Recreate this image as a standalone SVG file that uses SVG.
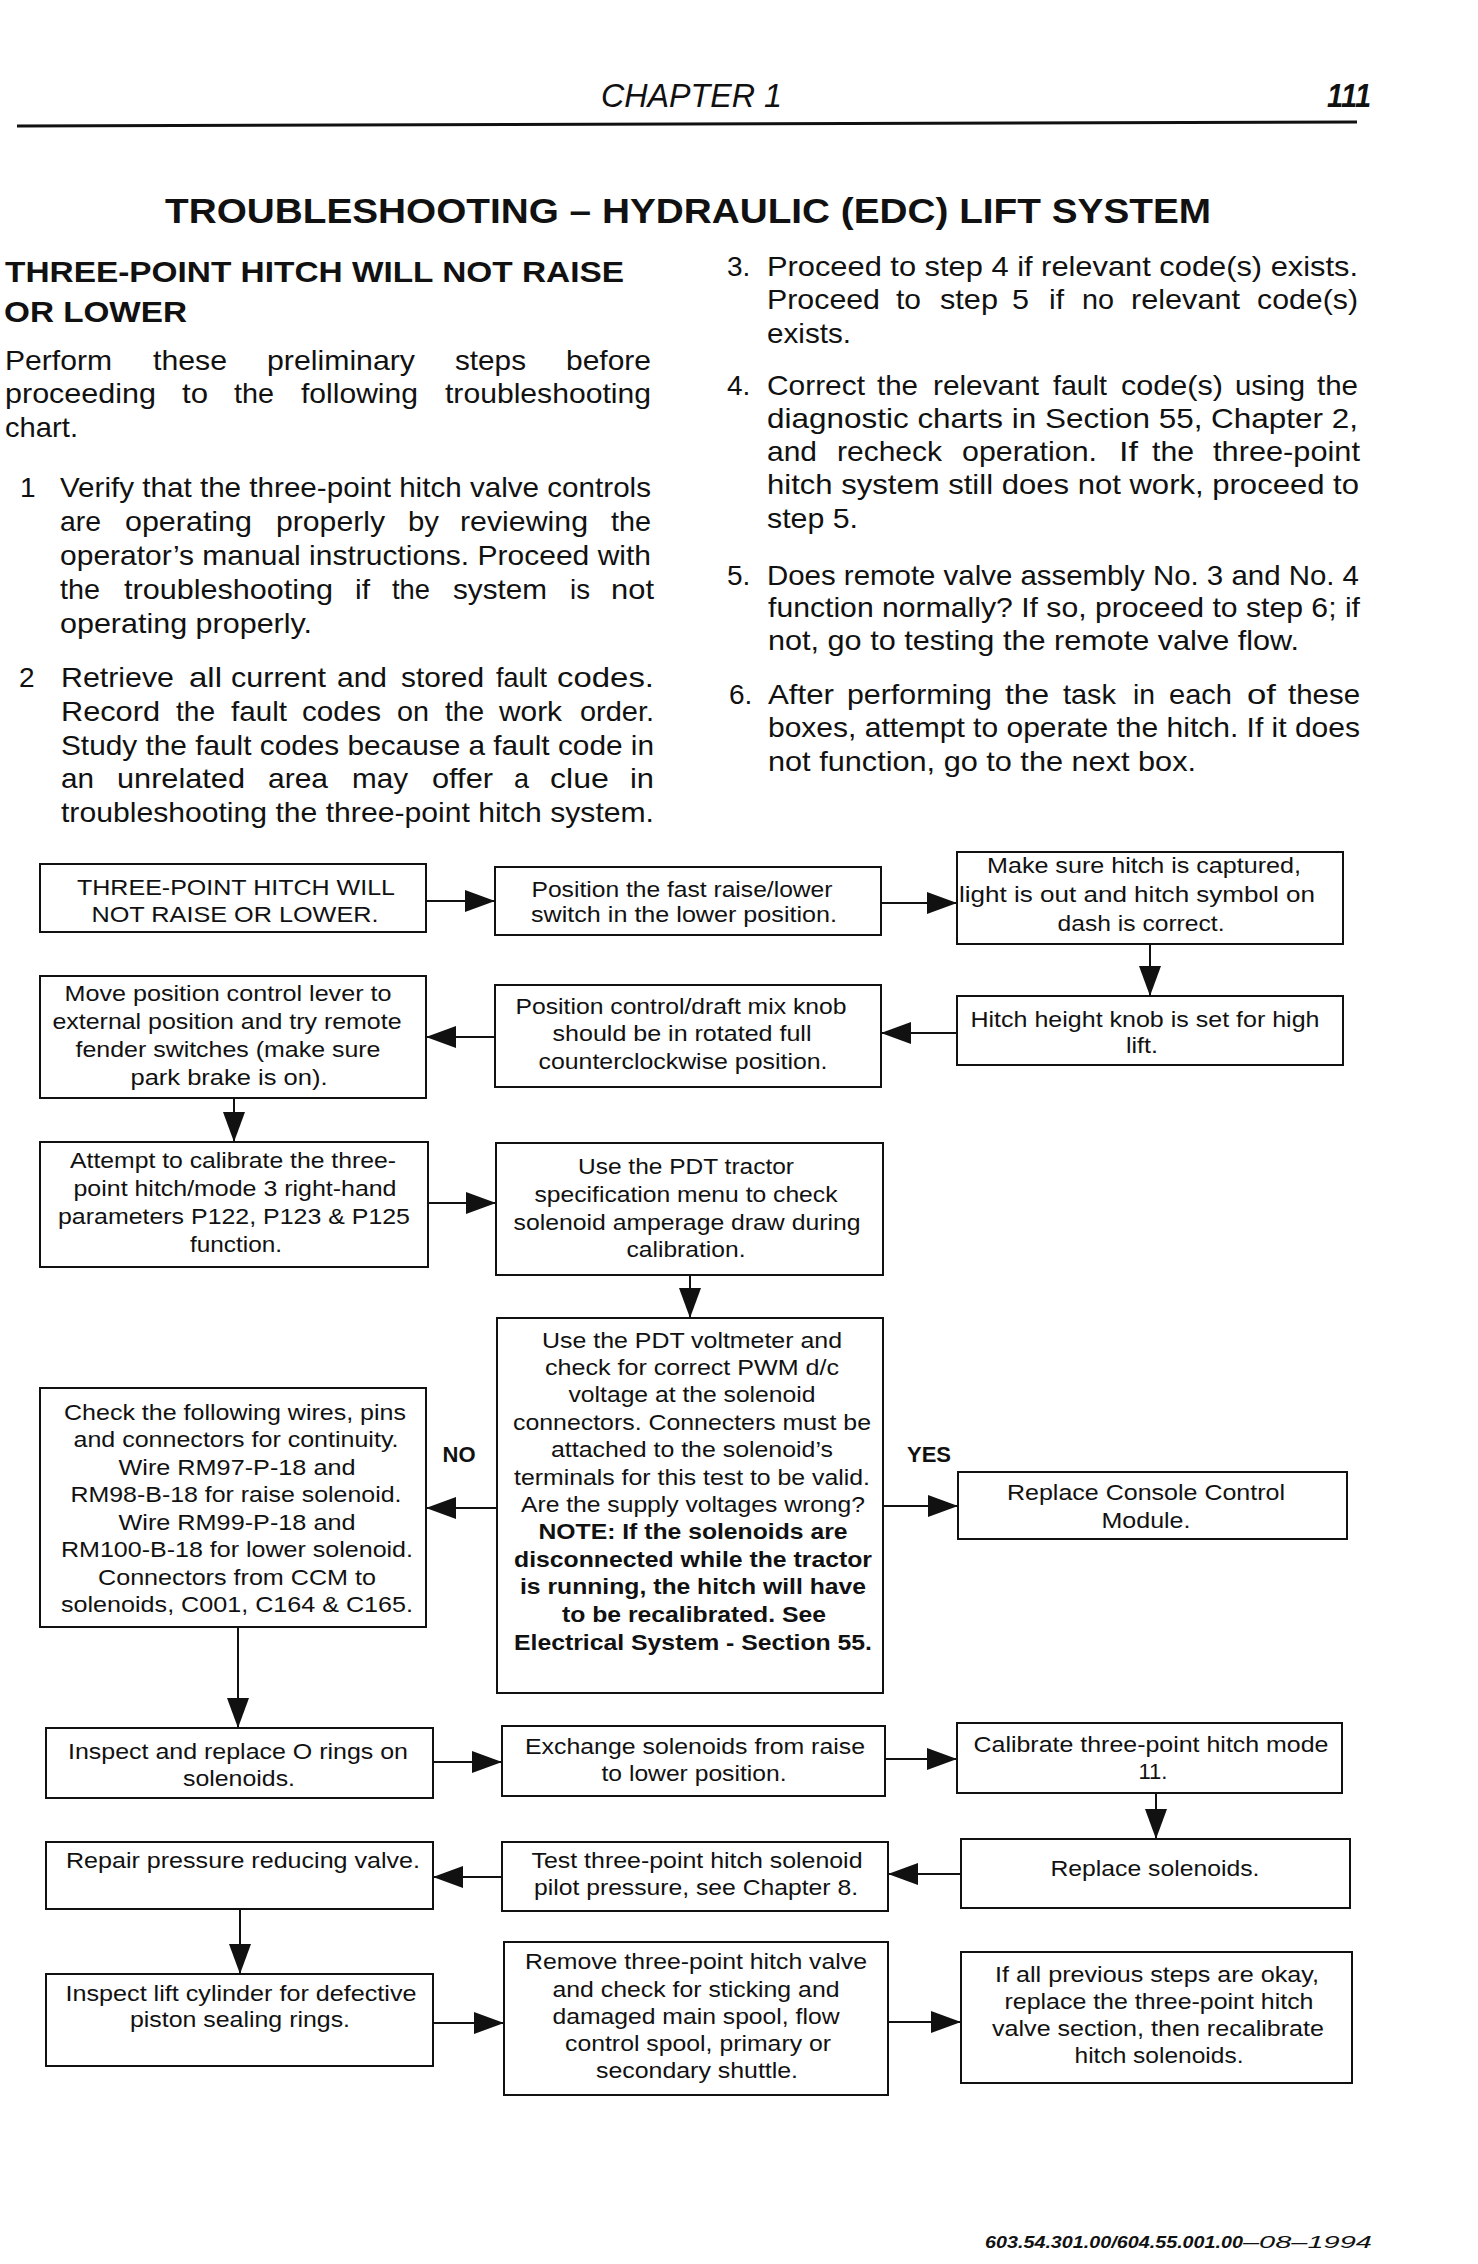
<svg xmlns="http://www.w3.org/2000/svg" width="1478" height="2264" viewBox="0 0 1478 2264">
<style>
text{font-family:"Liberation Sans",Arial,sans-serif;fill:#111}
.b{font-size:28px}
.hd{font-size:30px;font-weight:bold}
.t{font-size:35px;font-weight:bold}
.n{font-size:22px;text-anchor:middle}
.nb{font-size:22px;text-anchor:middle;font-weight:bold}
.box{fill:#fff;stroke:#111;stroke-width:2}
.c{fill:none;stroke:#111;stroke-width:2;marker-end:url(#ah)}
</style>
<defs>
<marker id="ah" markerUnits="userSpaceOnUse" markerWidth="31" markerHeight="23" refX="30" refY="11" orient="auto" viewBox="0 0 31 23">
<path d="M0,0 L30,11 L0,22 Z" fill="#111"/>
</marker>
</defs>
<rect width="1478" height="2264" fill="#fff"/>

<g id="header">
<text x="601" y="107" font-size="33" font-style="italic" textLength="181" lengthAdjust="spacingAndGlyphs">CHAPTER 1</text>
<text x="1327" y="107" font-size="33" font-style="italic" font-weight="bold" textLength="44" lengthAdjust="spacingAndGlyphs">111</text>
<line x1="17" y1="126" x2="1357" y2="122" stroke="#111" stroke-width="3"/>
<text class="t" x="165" y="223" textLength="1046" lengthAdjust="spacingAndGlyphs">TROUBLESHOOTING – HYDRAULIC (EDC) LIFT SYSTEM</text>
</g>

<g id="intro-left">
<text class="hd" x="5" y="282" textLength="619" lengthAdjust="spacingAndGlyphs">THREE-POINT HITCH WILL NOT RAISE</text>
<text class="hd" x="4" y="322" textLength="183" lengthAdjust="spacingAndGlyphs">OR LOWER</text>
<text class="b" x="5" y="370" textLength="107" lengthAdjust="spacingAndGlyphs">Perform</text>
<text class="b" x="153" y="370" textLength="74" lengthAdjust="spacingAndGlyphs">these</text>
<text class="b" x="267" y="370" textLength="148" lengthAdjust="spacingAndGlyphs">preliminary</text>
<text class="b" x="455" y="370" textLength="71" lengthAdjust="spacingAndGlyphs">steps</text>
<text class="b" x="566" y="370" textLength="85" lengthAdjust="spacingAndGlyphs">before</text>
<text class="b" x="5" y="403" textLength="151" lengthAdjust="spacingAndGlyphs">proceeding</text>
<text class="b" x="182" y="403" textLength="26" lengthAdjust="spacingAndGlyphs">to</text>
<text class="b" x="234" y="403" textLength="40" lengthAdjust="spacingAndGlyphs">the</text>
<text class="b" x="301" y="403" textLength="117" lengthAdjust="spacingAndGlyphs">following</text>
<text class="b" x="445" y="403" textLength="206" lengthAdjust="spacingAndGlyphs">troubleshooting</text>
<text class="b" x="5" y="437" textLength="73" lengthAdjust="spacingAndGlyphs">chart.</text>

<text class="b" x="20" y="497">1</text>
<text class="b" x="60" y="497" textLength="591" lengthAdjust="spacingAndGlyphs">Verify that the three-point hitch valve controls</text>
<text class="b" x="60" y="531" textLength="41" lengthAdjust="spacingAndGlyphs">are</text>
<text class="b" x="125" y="531" textLength="127" lengthAdjust="spacingAndGlyphs">operating</text>
<text class="b" x="276" y="531" textLength="109" lengthAdjust="spacingAndGlyphs">properly</text>
<text class="b" x="408" y="531" textLength="31" lengthAdjust="spacingAndGlyphs">by</text>
<text class="b" x="460" y="531" textLength="128" lengthAdjust="spacingAndGlyphs">reviewing</text>
<text class="b" x="611" y="531" textLength="40" lengthAdjust="spacingAndGlyphs">the</text>
<text class="b" x="60" y="565" textLength="591" lengthAdjust="spacingAndGlyphs">operator’s manual instructions. Proceed with</text>
<text class="b" x="60" y="599" textLength="40" lengthAdjust="spacingAndGlyphs">the</text>
<text class="b" x="124" y="599" textLength="209" lengthAdjust="spacingAndGlyphs">troubleshooting</text>
<text class="b" x="355" y="599" textLength="15" lengthAdjust="spacingAndGlyphs">if</text>
<text class="b" x="392" y="599" textLength="38" lengthAdjust="spacingAndGlyphs">the</text>
<text class="b" x="453" y="599" textLength="94" lengthAdjust="spacingAndGlyphs">system</text>
<text class="b" x="570" y="599" textLength="20" lengthAdjust="spacingAndGlyphs">is</text>
<text class="b" x="611" y="599" textLength="43" lengthAdjust="spacingAndGlyphs">not</text>
<text class="b" x="60" y="633" textLength="252" lengthAdjust="spacingAndGlyphs">operating properly.</text>

<text class="b" x="19" y="687">2</text>
<text class="b" x="61" y="687" textLength="113" lengthAdjust="spacingAndGlyphs">Retrieve</text>
<text class="b" x="189" y="687" textLength="33" lengthAdjust="spacingAndGlyphs">all</text>
<text class="b" x="231" y="687" textLength="95" lengthAdjust="spacingAndGlyphs">current</text>
<text class="b" x="337" y="687" textLength="50" lengthAdjust="spacingAndGlyphs">and</text>
<text class="b" x="401" y="687" textLength="83" lengthAdjust="spacingAndGlyphs">stored</text>
<text class="b" x="496" y="687" textLength="51" lengthAdjust="spacingAndGlyphs">fault</text>
<text class="b" x="557" y="687" textLength="97" lengthAdjust="spacingAndGlyphs">codes.</text>
<text class="b" x="61" y="721" textLength="99" lengthAdjust="spacingAndGlyphs">Record</text>
<text class="b" x="176" y="721" textLength="39" lengthAdjust="spacingAndGlyphs">the</text>
<text class="b" x="231" y="721" textLength="56" lengthAdjust="spacingAndGlyphs">fault</text>
<text class="b" x="302" y="721" textLength="79" lengthAdjust="spacingAndGlyphs">codes</text>
<text class="b" x="397" y="721" textLength="32" lengthAdjust="spacingAndGlyphs">on</text>
<text class="b" x="445" y="721" textLength="39" lengthAdjust="spacingAndGlyphs">the</text>
<text class="b" x="499" y="721" textLength="63" lengthAdjust="spacingAndGlyphs">work</text>
<text class="b" x="580" y="721" textLength="74" lengthAdjust="spacingAndGlyphs">order.</text>
<text class="b" x="61" y="755" textLength="593" lengthAdjust="spacingAndGlyphs">Study the fault codes because a fault code in</text>
<text class="b" x="61" y="788" textLength="33" lengthAdjust="spacingAndGlyphs">an</text>
<text class="b" x="117" y="788" textLength="128" lengthAdjust="spacingAndGlyphs">unrelated</text>
<text class="b" x="268" y="788" textLength="60" lengthAdjust="spacingAndGlyphs">area</text>
<text class="b" x="352" y="788" textLength="56" lengthAdjust="spacingAndGlyphs">may</text>
<text class="b" x="432" y="788" textLength="61" lengthAdjust="spacingAndGlyphs">offer</text>
<text class="b" x="514" y="788" textLength="15" lengthAdjust="spacingAndGlyphs">a</text>
<text class="b" x="550" y="788" textLength="59" lengthAdjust="spacingAndGlyphs">clue</text>
<text class="b" x="630" y="788" textLength="24" lengthAdjust="spacingAndGlyphs">in</text>
<text class="b" x="61" y="822" textLength="593" lengthAdjust="spacingAndGlyphs">troubleshooting the three-point hitch system.</text>
</g>

<g id="intro-right">
<text class="b" x="727" y="276">3.</text>
<text class="b" x="767" y="276" textLength="591" lengthAdjust="spacingAndGlyphs">Proceed to step 4 if relevant code(s) exists.</text>
<text class="b" x="767" y="309" textLength="113" lengthAdjust="spacingAndGlyphs">Proceed</text>
<text class="b" x="896" y="309" textLength="25" lengthAdjust="spacingAndGlyphs">to</text>
<text class="b" x="940" y="309" textLength="58" lengthAdjust="spacingAndGlyphs">step</text>
<text class="b" x="1012" y="309" textLength="17" lengthAdjust="spacingAndGlyphs">5</text>
<text class="b" x="1049" y="309" textLength="15" lengthAdjust="spacingAndGlyphs">if</text>
<text class="b" x="1082" y="309" textLength="32" lengthAdjust="spacingAndGlyphs">no</text>
<text class="b" x="1131" y="309" textLength="109" lengthAdjust="spacingAndGlyphs">relevant</text>
<text class="b" x="1257" y="309" textLength="101" lengthAdjust="spacingAndGlyphs">code(s)</text>
<text class="b" x="767" y="343" textLength="84" lengthAdjust="spacingAndGlyphs">exists.</text>

<text class="b" x="727" y="395">4.</text>
<text class="b" x="767" y="395" textLength="98" lengthAdjust="spacingAndGlyphs">Correct</text>
<text class="b" x="877" y="395" textLength="41" lengthAdjust="spacingAndGlyphs">the</text>
<text class="b" x="933" y="395" textLength="106" lengthAdjust="spacingAndGlyphs">relevant</text>
<text class="b" x="1053" y="395" textLength="54" lengthAdjust="spacingAndGlyphs">fault</text>
<text class="b" x="1121" y="395" textLength="102" lengthAdjust="spacingAndGlyphs">code(s)</text>
<text class="b" x="1235" y="395" textLength="70" lengthAdjust="spacingAndGlyphs">using</text>
<text class="b" x="1317" y="395" textLength="41" lengthAdjust="spacingAndGlyphs">the</text>
<text class="b" x="767" y="428" textLength="591" lengthAdjust="spacingAndGlyphs">diagnostic charts in Section 55, Chapter 2,</text>
<text class="b" x="767" y="461" textLength="50" lengthAdjust="spacingAndGlyphs">and</text>
<text class="b" x="837" y="461" textLength="105" lengthAdjust="spacingAndGlyphs">recheck</text>
<text class="b" x="962" y="461" textLength="135" lengthAdjust="spacingAndGlyphs">operation.</text>
<text class="b" x="1119" y="461" textLength="19" lengthAdjust="spacingAndGlyphs">If</text>
<text class="b" x="1152" y="461" textLength="42" lengthAdjust="spacingAndGlyphs">the</text>
<text class="b" x="1213" y="461" textLength="147" lengthAdjust="spacingAndGlyphs">three-point</text>
<text class="b" x="767" y="494" textLength="592" lengthAdjust="spacingAndGlyphs">hitch system still does not work, proceed to</text>
<text class="b" x="767" y="528" textLength="91" lengthAdjust="spacingAndGlyphs">step 5.</text>

<text class="b" x="727" y="585">5.</text>
<text class="b" x="767" y="585" textLength="592" lengthAdjust="spacingAndGlyphs">Does remote valve assembly No. 3 and No. 4</text>
<text class="b" x="768" y="617" textLength="592" lengthAdjust="spacingAndGlyphs">function normally? If so, proceed to step 6; if</text>
<text class="b" x="768" y="650" textLength="531" lengthAdjust="spacingAndGlyphs">not, go to testing the remote valve flow.</text>

<text class="b" x="729" y="704">6.</text>
<text class="b" x="768" y="704" textLength="66" lengthAdjust="spacingAndGlyphs">After</text>
<text class="b" x="847" y="704" textLength="145" lengthAdjust="spacingAndGlyphs">performing</text>
<text class="b" x="1005" y="704" textLength="44" lengthAdjust="spacingAndGlyphs">the</text>
<text class="b" x="1063" y="704" textLength="53" lengthAdjust="spacingAndGlyphs">task</text>
<text class="b" x="1133" y="704" textLength="22" lengthAdjust="spacingAndGlyphs">in</text>
<text class="b" x="1169" y="704" textLength="63" lengthAdjust="spacingAndGlyphs">each</text>
<text class="b" x="1247" y="704" textLength="29" lengthAdjust="spacingAndGlyphs">of</text>
<text class="b" x="1288" y="704" textLength="72" lengthAdjust="spacingAndGlyphs">these</text>
<text class="b" x="768" y="737" textLength="592" lengthAdjust="spacingAndGlyphs">boxes, attempt to operate the hitch. If it does</text>
<text class="b" x="768" y="771" textLength="428" lengthAdjust="spacingAndGlyphs">not function, go to the next box.</text>
</g>

<g id="connectors">
<line class="c" x1="426" y1="901" x2="495" y2="901"/>
<line class="c" x1="881" y1="903" x2="957" y2="903"/>
<line class="c" x1="1150" y1="944" x2="1150" y2="996"/>
<line class="c" x1="957" y1="1033" x2="881" y2="1033"/>
<line class="c" x1="495" y1="1037" x2="426" y2="1037"/>
<line class="c" x1="234" y1="1098" x2="234" y2="1142"/>
<line class="c" x1="428" y1="1203" x2="496" y2="1203"/>
<line class="c" x1="690" y1="1275" x2="690" y2="1318"/>
<line class="c" x1="497" y1="1508" x2="426" y2="1508"/>
<line class="c" x1="883" y1="1506" x2="958" y2="1506"/>
<line class="c" x1="238" y1="1627" x2="238" y2="1728"/>
<line class="c" x1="433" y1="1762" x2="502" y2="1762"/>
<line class="c" x1="885" y1="1759" x2="957" y2="1759"/>
<line class="c" x1="1156" y1="1793" x2="1156" y2="1839"/>
<line class="c" x1="961" y1="1874" x2="888" y2="1874"/>
<line class="c" x1="502" y1="1877" x2="433" y2="1877"/>
<line class="c" x1="240" y1="1909" x2="240" y2="1974"/>
<line class="c" x1="433" y1="2023" x2="504" y2="2023"/>
<line class="c" x1="888" y1="2022" x2="961" y2="2022"/>
<text class="nb" x="459" y="1462">NO</text>
<text class="nb" x="929" y="1462">YES</text>
</g>

<g id="nA"><rect class="box" x="40" y="864" width="386" height="68"/>
<text class="n" x="236" y="895" textLength="318" lengthAdjust="spacingAndGlyphs">THREE-POINT HITCH WILL</text>
<text class="n" x="235" y="922" textLength="287" lengthAdjust="spacingAndGlyphs">NOT RAISE OR LOWER.</text></g>

<g id="nB"><rect class="box" x="495" y="867" width="386" height="68"/>
<text class="n" x="682" y="897" textLength="301" lengthAdjust="spacingAndGlyphs">Position the fast raise/lower</text>
<text class="n" x="684" y="922" textLength="306" lengthAdjust="spacingAndGlyphs">switch in the lower position.</text></g>

<g id="nC"><rect class="box" x="957" y="852" width="386" height="92"/>
<text class="n" x="1144" y="873" textLength="314" lengthAdjust="spacingAndGlyphs">Make sure hitch is captured,</text>
<text class="n" x="1137" y="902" textLength="356" lengthAdjust="spacingAndGlyphs">light is out and hitch symbol on</text>
<text class="n" x="1141" y="931" textLength="167" lengthAdjust="spacingAndGlyphs">dash is correct.</text></g>

<g id="nD"><rect class="box" x="40" y="976" width="386" height="122"/>
<text class="n" x="228" y="1001" textLength="327" lengthAdjust="spacingAndGlyphs">Move position control lever to</text>
<text class="n" x="227" y="1029" textLength="349" lengthAdjust="spacingAndGlyphs">external position and try remote</text>
<text class="n" x="228" y="1057" textLength="305" lengthAdjust="spacingAndGlyphs">fender switches (make sure</text>
<text class="n" x="229" y="1085" textLength="197" lengthAdjust="spacingAndGlyphs">park brake is on).</text></g>

<g id="nE"><rect class="box" x="495" y="985" width="386" height="102"/>
<text class="n" x="681" y="1014" textLength="331" lengthAdjust="spacingAndGlyphs">Position control/draft mix knob</text>
<text class="n" x="682" y="1041" textLength="259" lengthAdjust="spacingAndGlyphs">should be in rotated full</text>
<text class="n" x="683" y="1069" textLength="289" lengthAdjust="spacingAndGlyphs">counterclockwise position.</text></g>

<g id="nF"><rect class="box" x="957" y="996" width="386" height="69"/>
<text class="n" x="1145" y="1027" textLength="349" lengthAdjust="spacingAndGlyphs">Hitch height knob is set for high</text>
<text class="n" x="1142" y="1053" textLength="32" lengthAdjust="spacingAndGlyphs">lift.</text></g>

<g id="nG"><rect class="box" x="40" y="1142" width="388" height="125"/>
<text class="n" x="233" y="1168" textLength="326" lengthAdjust="spacingAndGlyphs">Attempt to calibrate the three-</text>
<text class="n" x="235" y="1196" textLength="323" lengthAdjust="spacingAndGlyphs">point hitch/mode 3 right-hand</text>
<text class="n" x="234" y="1224" textLength="352" lengthAdjust="spacingAndGlyphs">parameters P122, P123 &amp; P125</text>
<text class="n" x="236" y="1252" textLength="92" lengthAdjust="spacingAndGlyphs">function.</text></g>

<g id="nH"><rect class="box" x="496" y="1143" width="387" height="132"/>
<text class="n" x="686" y="1174" textLength="216" lengthAdjust="spacingAndGlyphs">Use the PDT tractor</text>
<text class="n" x="686" y="1202" textLength="303" lengthAdjust="spacingAndGlyphs">specification menu to check</text>
<text class="n" x="687" y="1230" textLength="347" lengthAdjust="spacingAndGlyphs">solenoid amperage draw during</text>
<text class="n" x="686" y="1257" textLength="119" lengthAdjust="spacingAndGlyphs">calibration.</text></g>

<g id="nI"><rect class="box" x="497" y="1318" width="386" height="375"/>
<text class="n" x="692" y="1348" textLength="300" lengthAdjust="spacingAndGlyphs">Use the PDT voltmeter and</text>
<text class="n" x="692" y="1375" textLength="294" lengthAdjust="spacingAndGlyphs">check for correct PWM d/c</text>
<text class="n" x="692" y="1402" textLength="247" lengthAdjust="spacingAndGlyphs">voltage at the solenoid</text>
<text class="n" x="692" y="1430" textLength="358" lengthAdjust="spacingAndGlyphs">connectors. Connecters must be</text>
<text class="n" x="692" y="1457" textLength="282" lengthAdjust="spacingAndGlyphs">attached to the solenoid’s</text>
<text class="n" x="692" y="1485" textLength="356" lengthAdjust="spacingAndGlyphs">terminals for this test to be valid.</text>
<text class="n" x="693" y="1512" textLength="344" lengthAdjust="spacingAndGlyphs">Are the supply voltages wrong?</text>
<text class="nb" x="693" y="1539" textLength="309" lengthAdjust="spacingAndGlyphs">NOTE: If the solenoids are</text>
<text class="nb" x="693" y="1567" textLength="358" lengthAdjust="spacingAndGlyphs">disconnected while the tractor</text>
<text class="nb" x="693" y="1594" textLength="346" lengthAdjust="spacingAndGlyphs">is running, the hitch will have</text>
<text class="nb" x="694" y="1622" textLength="264" lengthAdjust="spacingAndGlyphs">to be recalibrated. See</text>
<text class="nb" x="693" y="1650" textLength="358" lengthAdjust="spacingAndGlyphs">Electrical System - Section 55.</text></g>

<g id="nJ"><rect class="box" x="40" y="1388" width="386" height="239"/>
<text class="n" x="235" y="1420" textLength="342" lengthAdjust="spacingAndGlyphs">Check the following wires, pins</text>
<text class="n" x="236" y="1447" textLength="325" lengthAdjust="spacingAndGlyphs">and connectors for continuity.</text>
<text class="n" x="237" y="1475" textLength="237" lengthAdjust="spacingAndGlyphs">Wire RM97-P-18 and</text>
<text class="n" x="236" y="1502" textLength="331" lengthAdjust="spacingAndGlyphs">RM98-B-18 for raise solenoid.</text>
<text class="n" x="237" y="1530" textLength="237" lengthAdjust="spacingAndGlyphs">Wire RM99-P-18 and</text>
<text class="n" x="237" y="1557" textLength="352" lengthAdjust="spacingAndGlyphs">RM100-B-18 for lower solenoid.</text>
<text class="n" x="237" y="1585" textLength="278" lengthAdjust="spacingAndGlyphs">Connectors from CCM to</text>
<text class="n" x="237" y="1612" textLength="352" lengthAdjust="spacingAndGlyphs">solenoids, C001, C164 &amp; C165.</text></g>

<g id="nK"><rect class="box" x="958" y="1472" width="389" height="67"/>
<text class="n" x="1146" y="1500" textLength="278" lengthAdjust="spacingAndGlyphs">Replace Console Control</text>
<text class="n" x="1146" y="1528" textLength="89" lengthAdjust="spacingAndGlyphs">Module.</text></g>

<g id="nL"><rect class="box" x="46" y="1728" width="387" height="70"/>
<text class="n" x="238" y="1759" textLength="340" lengthAdjust="spacingAndGlyphs">Inspect and replace O rings on</text>
<text class="n" x="239" y="1786" textLength="112" lengthAdjust="spacingAndGlyphs">solenoids.</text></g>

<g id="nM"><rect class="box" x="502" y="1726" width="383" height="70"/>
<text class="n" x="695" y="1754" textLength="340" lengthAdjust="spacingAndGlyphs">Exchange solenoids from raise</text>
<text class="n" x="694" y="1781" textLength="185" lengthAdjust="spacingAndGlyphs">to lower position.</text></g>

<g id="nN"><rect class="box" x="957" y="1723" width="385" height="70"/>
<text class="n" x="1151" y="1752" textLength="355" lengthAdjust="spacingAndGlyphs">Calibrate three-point hitch mode</text>
<text class="n" x="1153" y="1779" textLength="29" lengthAdjust="spacingAndGlyphs">11.</text></g>

<g id="nO"><rect class="box" x="961" y="1839" width="389" height="69"/>
<text class="n" x="1155" y="1876" textLength="209" lengthAdjust="spacingAndGlyphs">Replace solenoids.</text></g>

<g id="nP"><rect class="box" x="502" y="1842" width="386" height="69"/>
<text class="n" x="697" y="1868" textLength="331" lengthAdjust="spacingAndGlyphs">Test three-point hitch solenoid</text>
<text class="n" x="696" y="1895" textLength="324" lengthAdjust="spacingAndGlyphs">pilot pressure, see Chapter 8.</text></g>

<g id="nQ"><rect class="box" x="46" y="1842" width="387" height="67"/>
<text class="n" x="243" y="1868" textLength="354" lengthAdjust="spacingAndGlyphs">Repair pressure reducing valve.</text></g>

<g id="nR"><rect class="box" x="46" y="1974" width="387" height="92"/>
<text class="n" x="241" y="2001" textLength="351" lengthAdjust="spacingAndGlyphs">Inspect lift cylinder for defective</text>
<text class="n" x="240" y="2027" textLength="220" lengthAdjust="spacingAndGlyphs">piston sealing rings.</text></g>

<g id="nS"><rect class="box" x="504" y="1942" width="384" height="153"/>
<text class="n" x="696" y="1969" textLength="342" lengthAdjust="spacingAndGlyphs">Remove three-point hitch valve</text>
<text class="n" x="696" y="1997" textLength="287" lengthAdjust="spacingAndGlyphs">and check for sticking and</text>
<text class="n" x="696" y="2024" textLength="287" lengthAdjust="spacingAndGlyphs">damaged main spool, flow</text>
<text class="n" x="698" y="2051" textLength="266" lengthAdjust="spacingAndGlyphs">control spool, primary or</text>
<text class="n" x="697" y="2078" textLength="202" lengthAdjust="spacingAndGlyphs">secondary shuttle.</text></g>

<g id="nT"><rect class="box" x="961" y="1952" width="391" height="131"/>
<text class="n" x="1157" y="1982" textLength="324" lengthAdjust="spacingAndGlyphs">If all previous steps are okay,</text>
<text class="n" x="1159" y="2009" textLength="309" lengthAdjust="spacingAndGlyphs">replace the three-point hitch</text>
<text class="n" x="1158" y="2036" textLength="332" lengthAdjust="spacingAndGlyphs">valve section, then recalibrate</text>
<text class="n" x="1159" y="2063" textLength="169" lengthAdjust="spacingAndGlyphs">hitch solenoids.</text></g>

<g id="footer">
<text x="985" y="2248" font-size="17" font-style="italic" font-weight="bold" textLength="258" lengthAdjust="spacingAndGlyphs">603.54.301.00/604.55.001.00</text>
<text x="1243" y="2248" font-size="17" font-style="italic" textLength="129" lengthAdjust="spacingAndGlyphs">–08–1994</text>
</g>
</svg>
